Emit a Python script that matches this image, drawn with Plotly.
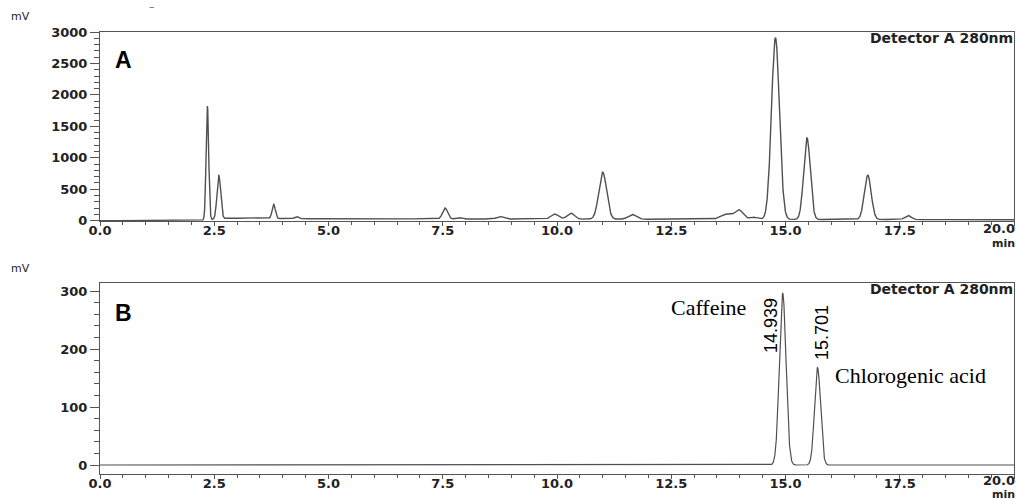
import numpy as np
import plotly.graph_objects as go

# ---------------- data ----------------
# Panel A: peak retention times (min), heights above baseline (mV), widths (sigma, min)
A_TIMES   = [2.35, 2.60, 3.80, 4.30, 5.50, 6.10, 6.60, 7.55, 7.85, 8.75, 9.95, 10.30,
             11.00, 11.65, 12.90, 13.70, 13.98, 14.30, 14.78, 15.47, 16.80, 17.68, 18.35]
A_HEIGHTS = [1810, 690, 225, 35, 10, 10, 12, 175, 25, 40, 80, 95,
             748, 75, 10, 80, 150, 35, 2890, 1297, 705, 65, 12]
A_SIGMAS  = [0.028, 0.040, 0.035, 0.040, 0.10, 0.10, 0.10, 0.055, 0.06, 0.07, 0.08, 0.08,
             0.085, 0.09, 0.10, 0.12, 0.09, 0.08, 0.087, 0.072, 0.075, 0.07, 0.08]
# Panel A baseline drift (knots)
A_BASE_T = [0.0, 1.6, 2.3, 2.8, 5.0, 10.0, 15.0, 20.0]
A_BASE_V = [0, 5, 10, 40, 30, 25, 20, 15]

# Panel B: identified peaks
B_TIMES   = [14.939, 15.701]
B_HEIGHTS = [296, 168]
B_SIGMAS  = [0.072, 0.065]
B_NAMES   = ["Caffeine", "Chlorogenic acid"]
B_RT_LABELS = ["14.939", "15.701"]

X_TICKS = [0, 2.5, 5, 7.5, 10, 12.5, 15, 17.5, 20]
X_TICK_TEXT = ["0.0", "2.5", "5.0", "7.5", "10.0", "12.5", "15.0", "17.5", "20.0"]

# ---------------- build signals ----------------
t = np.linspace(0, 20, 8001)

def chrom(times, heights, sigmas, base):
    y = np.array(base, dtype=float)
    for mu, h, s in zip(times, heights, sigmas):
        y += h * np.exp(-0.5 * ((t - mu) / s) ** 2)
    return y

sigA = chrom(A_TIMES, A_HEIGHTS, A_SIGMAS, np.interp(t, A_BASE_T, A_BASE_V))
sigB = chrom(B_TIMES, B_HEIGHTS, B_SIGMAS, np.zeros_like(t))

# ---------------- figure ----------------
W, H = 1016, 500
ML, MR, MT, MB = 100, 2, 32, 26
PW, PH = W - ML - MR, H - MT - MB

def px(x):
    return (x - ML) / PW

def py(y):
    return (H - MB - y) / PH

LINE = "#505050"
AX = "#555555"
TXT = "#222222"
TICKFONT = dict(family="DejaVu Sans", size=13, color=TXT, weight="bold")

fig = go.Figure()
fig.add_trace(go.Scatter(x=t, y=sigA, mode="lines", line=dict(color=LINE, width=1.4),
                         xaxis="x", yaxis="y", showlegend=False, hoverinfo="skip"))
fig.add_trace(go.Scatter(x=t, y=sigB, mode="lines", line=dict(color=LINE, width=1.2),
                         xaxis="x2", yaxis="y2", showlegend=False, hoverinfo="skip"))

# the last x label sits flush against the right frame edge (drawn as right-aligned text below)
shown_text = X_TICK_TEXT[:-1] + [""]

xcommon = dict(range=[0, 20], tickvals=X_TICKS, ticktext=shown_text, ticks="outside",
               ticklen=4, tickcolor=AX, showline=True, mirror=True, linecolor=AX, linewidth=1,
               showgrid=False, zeroline=False, tickfont=TICKFONT, ticklabelstandoff=-7,
               minor=dict(dtick=0.5, tick0=0, ticks="outside", ticklen=3, tickcolor=AX))
ycommon = dict(ticks="outside", ticklen=9, tickcolor=AX, showline=True, mirror=True,
               linecolor=AX, linewidth=1, showgrid=False, zeroline=False, tickfont=TICKFONT)

top_lo = py(221)
bot_hi = py(283)

fig.update_layout(
    width=W, height=H,
    margin=dict(l=ML, r=MR, t=MT, b=MB),
    paper_bgcolor="white", plot_bgcolor="white",
    xaxis=dict(domain=[0, 1], anchor="y", **xcommon),
    yaxis=dict(domain=[top_lo, 1], anchor="x", range=[-5, 3000], tickvals=[0, 500, 1000, 1500, 2000, 2500, 3000],
               minor=dict(dtick=100, ticks="outside", ticklen=5, tickcolor=AX), **ycommon),
    xaxis2=dict(domain=[0, 1], anchor="y2", **xcommon),
    yaxis2=dict(domain=[0, bot_hi], anchor="x2", range=[-15.5, 314], tickvals=[0, 100, 200, 300],
                minor=dict(dtick=20, ticks="outside", ticklen=5, tickcolor=AX), **ycommon),
)

ann = []
def txt(text, x, y, size=12, family="DejaVu Sans", color=TXT, xanchor="center",
        yanchor="middle", angle=0, weight="normal", pad=1):
    ann.append(dict(text=text, xref="paper", yref="paper", x=px(x), y=py(y), showarrow=False,
                    xanchor=xanchor, yanchor=yanchor, textangle=angle, borderpad=pad, borderwidth=0,
                    font=dict(family=family, size=size, color=color, weight=weight)))

# last x tick labels and axis unit labels
txt(X_TICK_TEXT[-1], 1015, 228, size=13, xanchor="right", weight="bold", pad=0)
txt(X_TICK_TEXT[-1], 1015, 480, size=13, xanchor="right", weight="bold", pad=0)
txt("min", 1015, 243, size=11, xanchor="right", weight="bold", pad=0)
txt("min", 1015, 494, size=11, xanchor="right", weight="bold", pad=0)
txt("mV", 20, 17, size=11)
txt("mV", 20, 268, size=11)
txt("–", 152, 7, size=11, color="#666")
# detector labels
txt("Detector A 280nm", 1014, 38, size=14, xanchor="right", weight="bold")
txt("Detector A 280nm", 1014, 289, size=14, xanchor="right", weight="bold")
# panel letters
txt("A", 123, 60, size=23, family="Liberation Sans", color="black", weight="bold")
txt("B", 123, 313, size=23, family="Liberation Sans", color="black", weight="bold")
# compound names
txt(B_NAMES[0], 708, 307, size=22, family="Liberation Serif", color="black")
txt(B_NAMES[1], 910, 375, size=22, family="Liberation Serif", color="black")
# retention time labels (rotated)
txt(B_RT_LABELS[0], 771, 326, size=18, family="Liberation Sans", color="black", angle=-90)
txt(B_RT_LABELS[1], 822, 333, size=18, family="Liberation Sans", color="black", angle=-90)

fig.update_layout(annotations=ann)
fig.write_html("out.html", config={"displayModeBar": False},
               post_script="document.body.style.margin='0px';document.body.style.overflow='hidden';")
